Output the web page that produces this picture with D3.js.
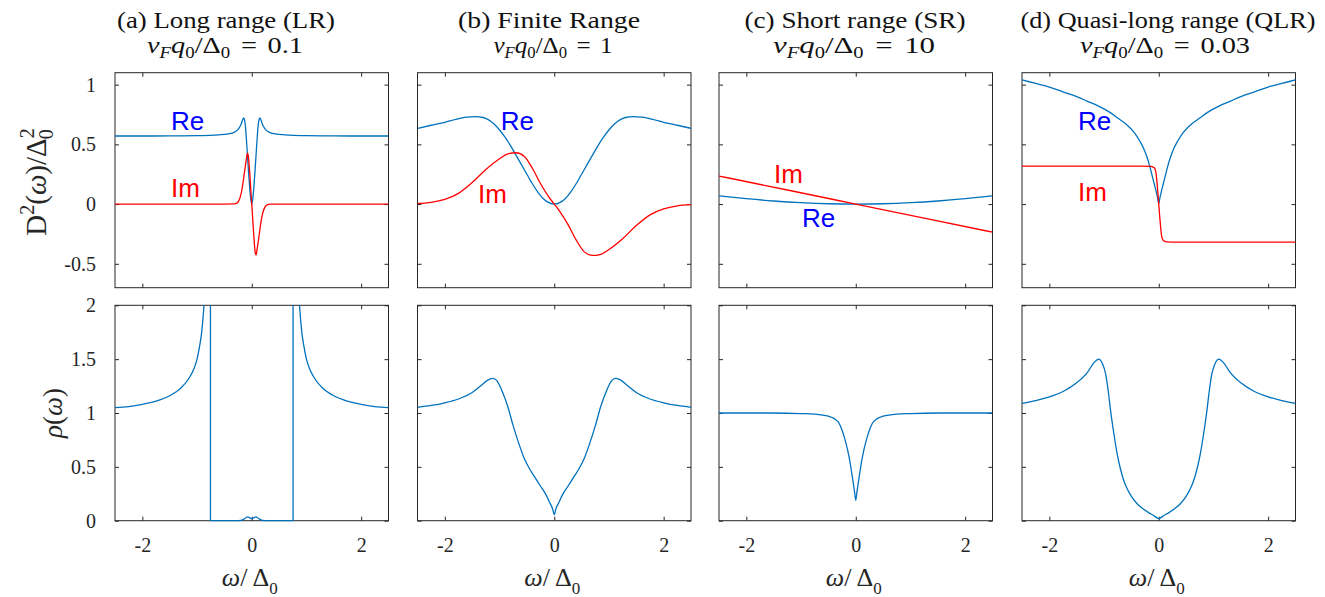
<!DOCTYPE html>
<html><head><meta charset="utf-8">
<script src="https://cdn.jsdelivr.net/npm/d3@7"></script>
<style>
body{margin:0;background:#fff}svg{display:block}
.serif, .serif tspan{font-family:"Liberation Serif","DejaVu Serif",serif}
.sans{font-family:"Liberation Sans",Arial,sans-serif}
</style>
</head><body><svg id="c" width="1325" height="597"></svg>
<script>
// ---------------- DATA ----------------
const panelTitles = ["(a) Long range (LR)", "(b) Finite Range", "(c) Short range (SR)", "(d) Quasi-long range (QLR)"];
const panelParams = ["0.1", "1", "10", "0.03"];
const xTicks = [-2, 0, 2];
const yTicksTop = [-0.5, 0, 0.5, 1];
const yTicksBot = [0, 0.5, 1, 1.5, 2];

// (a) long range
const wReA = [-2.5,-2,-1.5,-1,-0.7,-0.5,-0.4,-0.3,-0.25,-0.22,-0.19,-0.165,-0.15,-0.135,-0.12,-0.1,-0.08,-0.06,-0.04,-0.02,0,0.02,0.04,0.06,0.08,0.1,0.12,0.135,0.15,0.165,0.19,0.22,0.25,0.3,0.4,0.5,0.7,1,1.5,2,2.5];
const reA  = [0.57,0.57,0.571,0.573,0.577,0.583,0.59,0.605,0.625,0.645,0.675,0.708,0.722,0.71,0.67,0.56,0.42,0.28,0.15,0.05,0,0.05,0.15,0.28,0.42,0.56,0.67,0.71,0.722,0.708,0.675,0.645,0.625,0.605,0.59,0.583,0.577,0.573,0.571,0.57,0.57];
const wImA = [-2.5,-1,-0.5,-0.34,-0.28,-0.24,-0.21,-0.18,-0.15,-0.12,-0.1,-0.08,-0.065,-0.05,-0.035,-0.02,0,0.02,0.035,0.05,0.065,0.08,0.1,0.12,0.15,0.18,0.21,0.24,0.28,0.34,0.5,1,2.5];
const imA  = [0,0,0,0.001,0.006,0.025,0.06,0.12,0.21,0.31,0.37,0.425,0.41,0.34,0.25,0.14,0,-0.14,-0.25,-0.34,-0.41,-0.425,-0.37,-0.31,-0.21,-0.12,-0.06,-0.025,-0.006,-0.001,0,0,0];
const wRhoA = [-2.5,-2.25,-2,-1.75,-1.5,-1.3,-1.15,-1.05,-1,-0.95,-0.92,-0.9,-0.88,-0.86,-0.82,-0.78,-0.7551,-0.755,-0.3,-0.2,-0.15,-0.1,-0.07,-0.04,0,0.04,0.07,0.1,0.15,0.2,0.3,0.755,0.7551,0.78,0.82,0.86,0.88,0.9,0.92,0.95,1,1.05,1.15,1.3,1.5,1.75,2,2.25,2.5];
const rhoA  = [1.05,1.06,1.08,1.11,1.16,1.23,1.32,1.42,1.5,1.63,1.73,1.83,1.95,2.1,2.6,3.6,12,0,0,0.002,0.012,0.03,0.035,0.028,0.018,0.028,0.035,0.03,0.012,0.002,0,0,12,3.6,2.6,2.1,1.95,1.83,1.73,1.63,1.5,1.42,1.32,1.23,1.16,1.11,1.08,1.06,1.05];

// (b) finite range
const wReB = [-2.5,-2.25,-2,-1.8,-1.6,-1.45,-1.3,-1.2,-1.1,-1,-0.9,-0.8,-0.7,-0.6,-0.5,-0.4,-0.3,-0.2,-0.1,0,0.1,0.2,0.3,0.4,0.5,0.6,0.7,0.8,0.9,1,1.1,1.2,1.3,1.45,1.6,1.8,2,2.25,2.5];
const reB  = [0.634,0.66,0.685,0.71,0.728,0.733,0.725,0.705,0.67,0.62,0.56,0.49,0.41,0.33,0.25,0.17,0.1,0.045,0.012,0,0.012,0.045,0.1,0.17,0.25,0.33,0.41,0.49,0.56,0.62,0.67,0.705,0.725,0.733,0.728,0.71,0.685,0.66,0.634];
const wImB = [-2.5,-2.25,-2,-1.75,-1.5,-1.25,-1,-0.85,-0.7,-0.55,-0.4,-0.25,-0.1,0,0.1,0.25,0.4,0.55,0.7,0.85,1,1.25,1.5,1.75,2,2.25,2.5];
const imB  = [0.005,0.015,0.04,0.09,0.18,0.29,0.38,0.42,0.43,0.4,0.3,0.17,0.06,0,-0.06,-0.17,-0.3,-0.4,-0.43,-0.42,-0.38,-0.29,-0.18,-0.09,-0.04,-0.015,-0.005];
const wRhoB = [-2.5,-2.25,-2,-1.75,-1.5,-1.35,-1.2,-1.12,-1.05,-0.95,-0.85,-0.75,-0.65,-0.55,-0.45,-0.35,-0.25,-0.15,-0.08,-0.03,0,0.03,0.08,0.15,0.25,0.35,0.45,0.55,0.65,0.75,0.85,0.95,1.05,1.12,1.2,1.35,1.5,1.75,2,2.25,2.5];
const rhoB  = [1.053,1.07,1.095,1.13,1.19,1.25,1.31,1.322,1.3,1.2,1.06,0.88,0.72,0.58,0.48,0.4,0.32,0.24,0.165,0.11,0.055,0.11,0.165,0.24,0.32,0.4,0.48,0.58,0.72,0.88,1.06,1.2,1.3,1.322,1.31,1.25,1.19,1.13,1.095,1.07,1.053];

// (c) short range
const wReC = [-2.5,-2,-1.5,-1,-0.5,0,0.5,1,1.5,2,2.5];
const reC  = [0.068,0.045,0.026,0.012,0.003,0,0.003,0.012,0.026,0.045,0.068];
const wImC = [-2.5,-1.25,0,1.25,2.5];
const imC  = [0.235,0.118,0,-0.118,-0.235];
const wRhoC = [-2.5,-1.5,-1,-0.75,-0.5,-0.4,-0.3,-0.25,-0.2,-0.15,-0.1,-0.07,-0.04,-0.02,0,0.02,0.04,0.07,0.1,0.15,0.2,0.25,0.3,0.4,0.5,0.75,1,1.5,2.5];
const rhoC  = [1,1,0.995,0.99,0.97,0.95,0.9,0.84,0.76,0.66,0.53,0.43,0.33,0.26,0.19,0.26,0.33,0.43,0.53,0.66,0.76,0.84,0.9,0.95,0.97,0.99,0.995,1,1];

// (d) quasi-long range
const wReD = [-2.5,-2.25,-2,-1.75,-1.5,-1.3,-1.1,-0.9,-0.75,-0.6,-0.45,-0.35,-0.28,-0.22,-0.16,-0.1,-0.05,-0.02,0,0.02,0.05,0.1,0.16,0.22,0.28,0.35,0.45,0.6,0.75,0.9,1.1,1.3,1.5,1.75,2,2.25,2.5];
const reD  = [1.04,1.01,0.98,0.94,0.9,0.86,0.82,0.77,0.72,0.67,0.6,0.53,0.47,0.4,0.31,0.2,0.11,0.05,0.005,0.05,0.11,0.2,0.31,0.4,0.47,0.53,0.6,0.67,0.72,0.77,0.82,0.86,0.9,0.94,0.98,1.01,1.04];
const wImD = [-2.5,-0.3,-0.15,-0.1,-0.07,-0.05,-0.03,-0.015,0,0.015,0.03,0.05,0.07,0.1,0.15,0.3,2.5];
const imD  = [0.318,0.318,0.316,0.31,0.295,0.26,0.17,0.09,0,-0.09,-0.17,-0.26,-0.295,-0.31,-0.316,-0.318,-0.318];
const wRhoD = [-2.5,-2.25,-2,-1.75,-1.5,-1.3,-1.18,-1.1,-1.03,-0.97,-0.92,-0.88,-0.83,-0.76,-0.7,-0.65,-0.59,-0.5,-0.4,-0.3,-0.2,-0.1,0,0.1,0.2,0.3,0.4,0.5,0.59,0.65,0.7,0.76,0.83,0.88,0.92,0.97,1.03,1.1,1.18,1.3,1.5,1.75,2,2.25,2.5];
const rhoD  = [1.09,1.115,1.15,1.2,1.28,1.38,1.47,1.5,1.46,1.36,1.19,1.02,0.84,0.62,0.48,0.39,0.31,0.225,0.16,0.115,0.08,0.05,0.02,0.05,0.08,0.115,0.16,0.225,0.31,0.39,0.48,0.62,0.84,1.02,1.19,1.36,1.46,1.5,1.47,1.38,1.28,1.2,1.15,1.115,1.09];

// Re/Im annotations (data coordinates of text start / baseline)
const labelsA = [["Re",-1.476,0.62],["Im",-1.476,0.06]];
const labelsB = [["Re",-0.979,0.62],["Im",-1.394,0.009]];
const labelsC = [["Im",-1.495,0.179],["Re",-0.983,-0.19]];
const labelsD = [["Re",-1.476,0.62],["Im",-1.476,0.025]];

// ---------------- LAYOUT ----------------
const panelX = [115, 417.5, 719, 1022];
const panelW = 273.5;
const topY = 72.7, topH = 215;
const botY = 305.3, botH = 215.4;
const titleCX = [226, 549, 855, 1168];
const titleLen = [218, 182, 221, 295];
const paramCX = [225, 553, 854, 1165];
const paramLen = [156, 119, 162, 170];
const BLUE = "#0072BD", RED = "#FF0000";

const panels = [
  {re:[wReA,reA], im:[wImA,imA], rho:[wRhoA,rhoA], labels:labelsA},
  {re:[wReB,reB], im:[wImB,imB], rho:[wRhoB,rhoB], labels:labelsB},
  {re:[wReC,reC], im:[wImC,imC], rho:[wRhoC,rhoC], labels:labelsC},
  {re:[wReD,reD], im:[wImD,imD], rho:[wRhoD,rhoD], labels:labelsD},
];

const svg = d3.select("#c");
const defs = svg.append("defs");

function addParts(textSel, parts, opts) {
  let shift = 0;
  parts.forEach(p => {
    const [s, kind, dx] = p;
    const target = kind.includes("sub") ? opts.sub : kind.includes("sup") ? -opts.sup : 0;
    const t = textSel.append("tspan").text(s).attr("dy", target - shift);
    shift = target;
    if (kind.includes("i")) t.attr("font-style", "italic");
    if (target !== 0) t.style("font-size", opts.small + "px");
    if (dx !== undefined) t.attr("dx", dx);
  });
}

function drawAxesBox(g, x, y, x0, y0, w, h, yTicks, showX, showY) {
  const fmt = d => String(d);
  const ax = g.append("g");
  ax.append("g").attr("transform", `translate(0,${y0 + h})`)
    .call(d3.axisBottom(x).tickValues(xTicks).tickSize(-4).tickPadding(17).tickFormat(showX ? fmt : ""));
  ax.append("g").attr("transform", `translate(0,${y0})`)
    .call(d3.axisTop(x).tickValues(xTicks).tickSize(-4).tickFormat(""));
  ax.append("g").attr("transform", `translate(${x0},0)`)
    .call(d3.axisLeft(y).tickValues(yTicks).tickSize(-4).tickPadding(19).tickFormat(showY ? fmt : ""));
  ax.append("g").attr("transform", `translate(${x0 + w},0)`)
    .call(d3.axisRight(y).tickValues(yTicks).tickSize(-4).tickFormat(""));
  ax.selectAll(".domain").remove();
  ax.selectAll("g").attr("font-family", null).attr("font-size", null);
  ax.selectAll(".tick line").attr("stroke", "#262626").attr("stroke-width", 1);
  ax.selectAll(".tick text").attr("class", "serif").style("font-size", "20px").attr("fill", "#262626");
  ax.append("rect").attr("x", x0).attr("y", y0).attr("width", w).attr("height", h)
    .attr("fill", "none").attr("stroke", "#262626").attr("stroke-width", 1);
}

panels.forEach((P, i) => {
  const x0 = panelX[i];
  const x = d3.scaleLinear().domain([-2.5, 2.5]).range([x0, x0 + panelW]);
  const yT = d3.scaleLinear().domain([-0.7, 1.1]).range([topY + topH, topY]);
  const yB = d3.scaleLinear().domain([0, 2]).range([botY + botH, botY]);

  defs.append("clipPath").attr("id", "clipT" + i).append("rect")
    .attr("x", x0).attr("y", topY - 1).attr("width", panelW).attr("height", topH + 2);
  defs.append("clipPath").attr("id", "clipB" + i).append("rect")
    .attr("x", x0).attr("y", botY).attr("width", panelW).attr("height", botH + 1);

  const g = svg.append("g");
  drawAxesBox(g, x, yT, x0, topY, panelW, topH, yTicksTop, false, i === 0);
  drawAxesBox(g, x, yB, x0, botY, panelW, botH, yTicksBot, true, i === 0);

  const lineT = d3.line().x(d => x(d[0])).y(d => yT(d[1])).curve(d3.curveMonotoneX);
  const lineB = d3.line().x(d => x(d[0])).y(d => yB(d[1])).curve(d3.curveMonotoneX);
  const zip = ([a, b]) => a.map((v, k) => [v, b[k]]);

  const gt = g.append("g").attr("clip-path", `url(#clipT${i})`);
  gt.append("path").attr("d", lineT(zip(P.re))).attr("fill", "none").attr("stroke", BLUE).attr("stroke-width", 1.3);
  gt.append("path").attr("d", lineT(zip(P.im))).attr("fill", "none").attr("stroke", RED).attr("stroke-width", 1.3);
  const gb = g.append("g").attr("clip-path", `url(#clipB${i})`);
  gb.append("path").attr("d", lineB(zip(P.rho))).attr("fill", "none").attr("stroke", BLUE).attr("stroke-width", 1.3);

  P.labels.forEach(([s, lx, ly]) => {
    g.append("text").attr("class", "sans").attr("x", x(lx)).attr("y", yT(ly)).text(s)
      .style("font-size", "26px")
      .attr("fill", s === "Re" ? "#0000FF" : "#FF0000");
  });

  // titles
  g.append("text").attr("class", "serif").attr("x", titleCX[i]).attr("y", 28).attr("text-anchor", "middle")
    .style("font-size", "24px").attr("fill", "#111")
    .attr("textLength", titleLen[i]).attr("lengthAdjust", "spacingAndGlyphs").text(panelTitles[i]);
  const t2 = g.append("text").attr("class", "serif").attr("x", paramCX[i]).attr("y", 53).attr("text-anchor", "middle")
    .style("font-size", "24px").attr("fill", "#111")
    .attr("textLength", paramLen[i]).attr("lengthAdjust", "spacingAndGlyphs");
  addParts(t2, [["v","i"],["F","isub"],["q","i"],["0","sub"],["/",""],["Δ",""],["0","sub"],["=","",9],[panelParams[i],"",9]],
    {sub: 5, sup: 9, small: 16});

  // x label
  const xl = g.append("text").attr("class", "serif").attr("x", x(0) - 2).attr("y", 586).attr("text-anchor", "middle")
    .style("font-size", "26px").attr("fill", "#262626");
  addParts(xl, [["ω","i"],["/",""],[" Δ",""],["0","sub"]], {sub: 8, sup: 9, small: 17});
});

// y labels
const yl1 = svg.append("text").attr("class", "serif").attr("transform", `translate(46,182) rotate(-90)`)
  .attr("text-anchor", "middle").style("font-size", "29px").attr("fill", "#262626");
addParts(yl1, [["D",""],["2","sup"],["(",""],["ω","i"],[")/Δ",""],["2","sup"],["0","sub",-11]], {sub: 7, sup: 12, small: 20});
const yl2 = svg.append("text").attr("class", "serif").attr("transform", `translate(62,${botY + botH / 2}) rotate(-90)`)
  .attr("text-anchor", "middle").style("font-size", "27px").attr("fill", "#262626");
addParts(yl2, [["ρ","i"],["(",""],["ω","i"],[")",""]], {sub: 7, sup: 12, small: 19});
</script></body></html>
